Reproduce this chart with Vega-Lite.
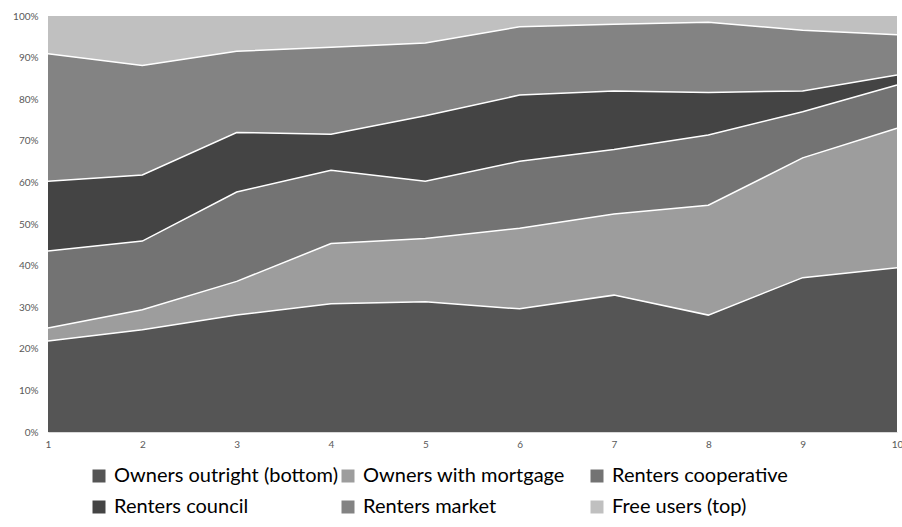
{
  "$schema": "https://vega.github.io/schema/vega-lite/v6.json",
  "width": 849,
  "height": 416,
  "autosize": {"type": "none"},
  "padding": {"left": 48, "top": 16, "right": 5, "bottom": 95},
  "background": "white",
  "config": {
    "view": {"stroke": null},
    "font": "Lato",
    "axis": {"labelFont": "Lato", "labelColor": "#595959", "labelFontSize": 10, "title": null, "grid": false, "ticks": false}
  },
  "data": {
    "values": [
      {"x": 1, "series": "Owners outright (bottom)", "layer": 1, "share": 21.9},
      {"x": 1, "series": "Owners with mortgage", "layer": 2, "share": 3.1},
      {"x": 1, "series": "Renters cooperative", "layer": 3, "share": 18.5},
      {"x": 1, "series": "Renters council", "layer": 4, "share": 16.8},
      {"x": 1, "series": "Renters market", "layer": 5, "share": 30.6},
      {"x": 1, "series": "Free users (top)", "layer": 6, "share": 9.1},
      {"x": 2, "series": "Owners outright (bottom)", "layer": 1, "share": 24.6},
      {"x": 2, "series": "Owners with mortgage", "layer": 2, "share": 4.8},
      {"x": 2, "series": "Renters cooperative", "layer": 3, "share": 16.5},
      {"x": 2, "series": "Renters council", "layer": 4, "share": 15.9},
      {"x": 2, "series": "Renters market", "layer": 5, "share": 26.3},
      {"x": 2, "series": "Free users (top)", "layer": 6, "share": 11.9},
      {"x": 3, "series": "Owners outright (bottom)", "layer": 1, "share": 28.1},
      {"x": 3, "series": "Owners with mortgage", "layer": 2, "share": 8.1},
      {"x": 3, "series": "Renters cooperative", "layer": 3, "share": 21.5},
      {"x": 3, "series": "Renters council", "layer": 4, "share": 14.3},
      {"x": 3, "series": "Renters market", "layer": 5, "share": 19.5},
      {"x": 3, "series": "Free users (top)", "layer": 6, "share": 8.5},
      {"x": 4, "series": "Owners outright (bottom)", "layer": 1, "share": 30.8},
      {"x": 4, "series": "Owners with mortgage", "layer": 2, "share": 14.5},
      {"x": 4, "series": "Renters cooperative", "layer": 3, "share": 17.6},
      {"x": 4, "series": "Renters council", "layer": 4, "share": 8.7},
      {"x": 4, "series": "Renters market", "layer": 5, "share": 20.9},
      {"x": 4, "series": "Free users (top)", "layer": 6, "share": 7.5},
      {"x": 5, "series": "Owners outright (bottom)", "layer": 1, "share": 31.3},
      {"x": 5, "series": "Owners with mortgage", "layer": 2, "share": 15.2},
      {"x": 5, "series": "Renters cooperative", "layer": 3, "share": 13.8},
      {"x": 5, "series": "Renters council", "layer": 4, "share": 15.7},
      {"x": 5, "series": "Renters market", "layer": 5, "share": 17.5},
      {"x": 5, "series": "Free users (top)", "layer": 6, "share": 6.5},
      {"x": 6, "series": "Owners outright (bottom)", "layer": 1, "share": 29.6},
      {"x": 6, "series": "Owners with mortgage", "layer": 2, "share": 19.4},
      {"x": 6, "series": "Renters cooperative", "layer": 3, "share": 16.1},
      {"x": 6, "series": "Renters council", "layer": 4, "share": 15.9},
      {"x": 6, "series": "Renters market", "layer": 5, "share": 16.4},
      {"x": 6, "series": "Free users (top)", "layer": 6, "share": 2.6},
      {"x": 7, "series": "Owners outright (bottom)", "layer": 1, "share": 32.9},
      {"x": 7, "series": "Owners with mortgage", "layer": 2, "share": 19.5},
      {"x": 7, "series": "Renters cooperative", "layer": 3, "share": 15.5},
      {"x": 7, "series": "Renters council", "layer": 4, "share": 14.1},
      {"x": 7, "series": "Renters market", "layer": 5, "share": 16.0},
      {"x": 7, "series": "Free users (top)", "layer": 6, "share": 2.0},
      {"x": 8, "series": "Owners outright (bottom)", "layer": 1, "share": 28.1},
      {"x": 8, "series": "Owners with mortgage", "layer": 2, "share": 26.4},
      {"x": 8, "series": "Renters cooperative", "layer": 3, "share": 16.9},
      {"x": 8, "series": "Renters council", "layer": 4, "share": 10.2},
      {"x": 8, "series": "Renters market", "layer": 5, "share": 16.9},
      {"x": 8, "series": "Free users (top)", "layer": 6, "share": 1.5},
      {"x": 9, "series": "Owners outright (bottom)", "layer": 1, "share": 37.1},
      {"x": 9, "series": "Owners with mortgage", "layer": 2, "share": 28.8},
      {"x": 9, "series": "Renters cooperative", "layer": 3, "share": 11.1},
      {"x": 9, "series": "Renters council", "layer": 4, "share": 5.0},
      {"x": 9, "series": "Renters market", "layer": 5, "share": 14.6},
      {"x": 9, "series": "Free users (top)", "layer": 6, "share": 3.4},
      {"x": 10, "series": "Owners outright (bottom)", "layer": 1, "share": 39.5},
      {"x": 10, "series": "Owners with mortgage", "layer": 2, "share": 33.5},
      {"x": 10, "series": "Renters cooperative", "layer": 3, "share": 10.4},
      {"x": 10, "series": "Renters council", "layer": 4, "share": 2.4},
      {"x": 10, "series": "Renters market", "layer": 5, "share": 9.7},
      {"x": 10, "series": "Free users (top)", "layer": 6, "share": 4.5}
    ]
  },
  "encoding": {
    "x": {
      "field": "x", "type": "quantitative",
      "scale": {"domain": [1, 10], "nice": false, "zero": false},
      "axis": {"values": [1, 2, 3, 4, 5, 6, 7, 8, 9, 10], "format": "d", "labelFlush": false, "labelPadding": 7, "domainColor": "#d9d9d9", "labelOverlap": false}
    },
    "y": {
      "field": "share", "type": "quantitative", "stack": "zero",
      "scale": {"domain": [0, 100], "nice": false},
      "axis": {"values": [0, 10, 20, 30, 40, 50, 60, 70, 80, 90, 100], "labelExpr": "datum.value + '%'", "domain": false, "labelPadding": 10}
    },
    "order": {"field": "layer", "type": "quantitative", "sort": "ascending"}
  },
  "layer": [
    {
      "mark": {"type": "area", "opacity": 1, "interpolate": "linear"},
      "encoding": {
        "color": {
          "field": "series", "type": "nominal",
          "sort": ["Owners outright (bottom)", "Owners with mortgage", "Renters cooperative", "Renters council", "Renters market", "Free users (top)"],
          "scale": {
            "domain": ["Owners outright (bottom)", "Owners with mortgage", "Renters cooperative", "Renters council", "Renters market", "Free users (top)"],
            "range": ["#555555", "#9d9d9d", "#737373", "#444444", "#838383", "#c0c0c0"]
          },
          "legend": {
            "title": null, "orient": "none", "legendX": 41, "legendY": 450, "direction": "horizontal",
            "columns": 3, "gridAlign": "all", "columnPadding": 0, "rowPadding": 11,
            "symbolType": "square", "symbolSize": 169, "symbolStrokeWidth": 0, "symbolOpacity": 1,
            "labelFont": "Lato", "labelFontSize": 20, "labelColor": "#000000", "labelOffset": 5, "labelLimit": 400,
            "padding": 0
          }
        }
      }
    },
    {
      "transform": [{"filter": "datum.series !== 'Free users (top)'"}],
      "mark": {"type": "line", "color": "#ffffff", "strokeWidth": 1.5, "interpolate": "linear"},
      "encoding": {
        "detail": {"field": "series", "type": "nominal"}
      }
    }
  ]
}
